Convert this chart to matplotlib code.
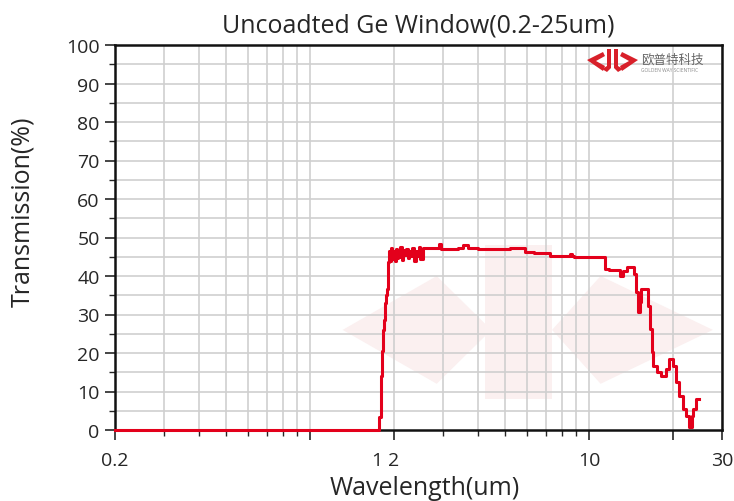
import numpy as np
import matplotlib.pyplot as plt
from matplotlib.patches import Polygon
from matplotlib.ticker import FixedLocator, NullFormatter, LogLocator

# transmission spectrum
wl_um = [0.20, 1.75, 1.77, 1.79, 1.80, 1.81, 1.82, 1.84, 1.86, 1.88, 1.89, 1.90, 1.91, 1.92, 1.93,
         1.95, 1.97, 1.99, 2.01, 2.03, 2.05, 2.07, 2.09, 2.11, 2.13, 2.15, 2.18, 2.21, 2.24, 2.27,
         2.30, 2.33, 2.36, 2.39, 2.42, 2.45, 2.48, 2.54,
         2.91, 2.94, 3.39, 3.55, 3.70, 3.99, 4.70, 5.23, 5.91, 6.37, 7.26, 8.55, 8.70, 8.84,
         11.40, 11.78, 12.90, 13.30, 13.65, 14.45, 14.70, 15.05, 15.20, 15.40, 15.80, 16.30, 16.50,
         16.80, 17.00, 17.50, 18.20, 18.90, 19.40, 20.10, 20.60, 21.10, 21.80, 22.30, 22.90, 23.40,
         23.70, 24.20, 24.80]
trans = [0.0, 0.0, 3.5, 8.9, 14.0, 20.5, 26.0, 28.5, 33.0, 35.0, 36.6, 40.5, 43.6, 46.5, 44.0,
         47.2, 44.5, 46.5, 43.8, 47.0, 44.8, 46.2, 45.0, 47.5, 44.2, 46.8, 45.5, 47.0, 44.6, 46.4,
         45.2, 47.3, 44.0, 46.6, 45.3, 47.6, 44.5, 47.4,
         48.2, 47.0, 47.4, 48.1, 47.4, 47.0, 46.9, 47.4, 46.3, 45.9, 45.3, 45.8, 45.3, 45.0,
         41.8, 41.5, 40.1, 41.4, 42.3, 40.5, 35.8, 30.6, 33.2, 36.6, 36.6, 32.2, 26.2,
         20.3, 16.7, 15.1, 14.1, 15.8, 18.4, 16.7, 12.5, 8.9, 5.5, 3.7, 0.8, 3.7,
         5.5, 8.1, 8.1]

x_ticks = [0.2, 1, 2, 10, 20, 30]
x_tick_labels = ["0.2", "", "2", "10", "", "30"]
y_ticks = list(range(0, 101, 10))

red = "#e3001b"
ink = "#262626"
plt.rcParams["font.family"] = ["Open Sans", "DejaVu Sans"]

fig = plt.figure(figsize=(7.34, 5.02), dpi=100)
ax = fig.add_axes([115 / 734, 71 / 502, 607 / 734, 385 / 502])

# faint watermark logo behind the data
wm = "#fbf0f0"
for pts in [[(0.375, 0.26), (0.53, 0.40), (0.62, 0.26), (0.53, 0.12)],
            [(0.72, 0.26), (0.80, 0.40), (0.985, 0.26), (0.80, 0.12)],
            [(0.61, 0.08), (0.72, 0.08), (0.72, 0.48), (0.61, 0.48)]]:
    ax.add_patch(Polygon(pts, closed=True, transform=ax.transAxes,
                         facecolor=wm, edgecolor="none", zorder=0))

ax.plot(wl_um, trans, color=red, lw=2.2, drawstyle="steps-post", zorder=3, clip_on=False)

ax.set_xscale("log")
ax.set_xlim(0.2, 30)
ax.set_ylim(0, 100)

ax.xaxis.set_major_locator(FixedLocator(x_ticks))
ax.set_xticklabels(x_tick_labels)
ax.xaxis.set_minor_locator(LogLocator(base=10, subs=np.arange(2, 10)))
ax.xaxis.set_minor_formatter(NullFormatter())
ax.set_yticks(y_ticks)
ax.set_yticks(range(5, 100, 10), minor=True)

# the "1" label sits next to the "2" in the original
ax.text(1.74, -0.078, "1", transform=ax.get_xaxis_transform(), ha="center", va="center",
        fontsize=14, color=ink)

ax.grid(True, which="both", axis="x", color="#cfcfcf", lw=1.2)
ax.set_axisbelow(True)
for yv in np.arange(5, 100, 5):
    ax.axhline(yv, color="#cfcfcf", lw=1.2, zorder=0.5)

ax.tick_params(axis="both", which="major", direction="out", length=7, width=1.2,
               labelsize=14, colors=ink, pad=4)
ax.tick_params(axis="x", which="major", pad=8)
ax.tick_params(axis="both", which="minor", direction="out", length=4, width=1.0, colors=ink)
for s in ax.spines.values():
    s.set_linewidth(1.8)
    s.set_color("#111111")

ax.set_title("Uncoadted Ge Window(0.2-25um)", fontsize=18, color=ink, pad=10)
ax.set_xlabel("Wavelength(um)", fontsize=18, color=ink)
ax.set_ylabel("Transmission(%)", fontsize=18, color=ink)
ax.xaxis.set_label_coords(0.51, -0.118)
ax.yaxis.set_label_coords(-0.132, 0.57)

# company logo, top right
def fxy(x, y):
    return (x / 734, 1 - y / 502)

left_mark = [[(587, 61), (603, 53), (605, 57), (596, 62), (605, 67), (603, 72)],
             [(607, 50), (611, 50), (611, 69), (607, 73), (602, 70), (607, 67)]]
marks = []
for shape in left_mark:
    marks.append([fxy(x, y) for x, y in shape])
    marks.append([fxy(1225 - x, y) for x, y in shape])
for pts in marks:
    fig.patches.append(Polygon(pts, closed=True, transform=fig.transFigure,
                               facecolor="#d8202a", edgecolor="none", zorder=5))
fig.text(641 / 734, 1 - 60 / 502, "欧普特科技", fontsize=9, color="#666666",
         family=["Noto Sans CJK SC", "DejaVu Sans"], ha="left", va="center")
fig.text(641 / 734, 1 - 71 / 502, "GOLDEN WAY SCIENTIFIC", fontsize=3.5, color="#888888",
         ha="left", va="center")

fig.savefig("out.png", dpi=100)
